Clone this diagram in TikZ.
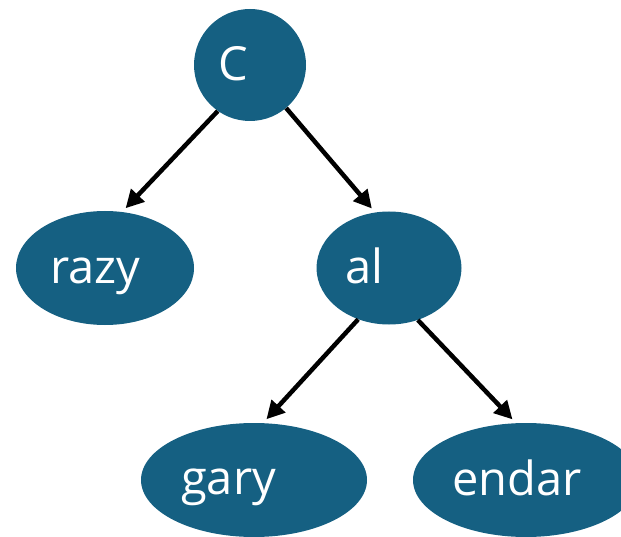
\documentclass[tikz,border=0pt]{standalone}
\usepackage{fontspec}
\setmainfont{Open Sans}
\usetikzlibrary{shapes.geometric,arrows.meta}
\definecolor{nodeblue}{HTML}{156082}
\tikzset{
  bubble/.style={ellipse, fill=nodeblue, draw=none, inner sep=0pt},
  ball/.style={circle, fill=nodeblue, draw=none, inner sep=0pt, minimum size=112pt},
  word/.style={anchor=base west, inner sep=0pt, text=white, font=\fontsize{47}{52}\selectfont},
  link/.style={line width=4.5pt, black, shorten >=5pt,
    -{Triangle[length=18pt,width=18pt]}}
}
\begin{document}
\begin{tikzpicture}[x=1pt,y=-1pt]
  \useasboundingbox (0,0) rectangle (621,537);
  \clip (0,0) rectangle (621,537);

  % tree nodes
  \node[ball] (C) at (250,65) {};
  \node[bubble, minimum width=178pt, minimum height=114pt] (razy) at (105,268) {};
  \node[bubble, minimum width=145pt, minimum height=113pt] (al) at (389,268) {};
  \node[bubble, minimum width=226pt, minimum height=114pt] (gary) at (254,480) {};
  \node[bubble, minimum width=226pt, minimum height=114pt] (endar) at (526,480) {};

  % labels
  \node[word] (Ct) at (218,81) {C};
  \node[word] (razyt) at (50,284) {razy};
  \node[word] (alt) at (345,284) {al};
  \node[word] (garyt) at (181,494) {gary};
  \node[word] (endart) at (452,495) {endar};

  % edges
  \draw[link] (C.235) -- (razy.73);
  \draw[link] (C.310) -- (al.104);
  \draw[link] (al.239) -- (gary.81);
  \draw[link] (al.299) -- (endar.100);
\end{tikzpicture}
\end{document}
